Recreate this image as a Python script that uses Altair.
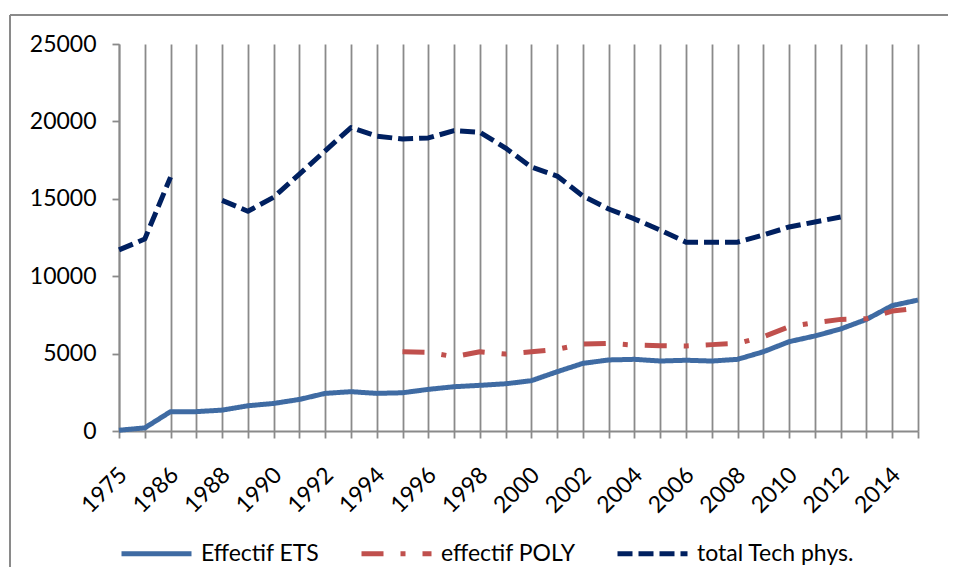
import altair as alt
import pandas as pd

years = [1975, 1985, 1986, 1987, 1988, 1989, 1990, 1991, 1992, 1993, 1994,
         1995, 1996, 1997, 1998, 1999, 2000, 2001, 2002, 2003, 2004, 2005,
         2006, 2007, 2008, 2009, 2010, 2011, 2012, 2013, 2014, 2015]

ets = [50, 200, 1250, 1250, 1350, 1630, 1780, 2040, 2430, 2540, 2430,
       2470, 2690, 2860, 2950, 3050, 3250, 3830, 4370, 4590, 4630, 4520,
       4570, 4520, 4630, 5120, 5770, 6140, 6590, 7210, 8100, 8460]

poly = [None, None, None, None, None, None, None, None, None, None, None,
        5120, 5080, 4800, 5120, 4970, 5120, 5280, 5620, 5660, 5550, 5510,
        5490, 5580, 5660, 6090, 6740, 7000, 7210, 7250, 7750, 7930]

total = [11700, 12400, 16400, None, 14900, 14200, 15100, 16600, 18100, 19600, 19050,
         18860, 18930, 19400, 19300, 18280, 17050, 16470, 15180, 14340, 13700, 12980,
         12200, 12190, 12200, 12660, 13180, 13500, 13820, None, None, None]

series_names = ["Effectif ETS", "effectif POLY", "total Tech phys."]
series_colors = ["#3F6BA3", "#C0504D", "#002060"]
series_dash = [[1, 0], [22, 17, 5, 17], [15, 6]]
y_ticks = [0, 5000, 10000, 15000, 20000, 25000]

rows = []
for name, vals in zip(series_names, [ets, poly, total]):
    seg = 0
    for yr, v in zip(years, vals):
        if v is None:
            seg += 1
            continue
        rows.append({"year": yr, "value": v, "series": name, "seg": seg})
df = pd.DataFrame(rows)

FONT = "Lato"
GRAY = "#8a8a8a"

legend = alt.Legend(
    title=None, orient="none", direction="horizontal",
    legendX=0, legendY=472,
    symbolType="stroke", symbolSize=4900, symbolStrokeWidth=5,
    labelFont=FONT, labelFontSize=23, labelColor="black", labelOffset=7,
    columnPadding=31, labelLimit=400,
)

lines = alt.Chart(df).mark_line(strokeWidth=5, strokeJoin="round").encode(
    x=alt.X("year:O", sort=years,
            scale=alt.Scale(type="point", padding=0),
            axis=alt.Axis(
                title=None, labelAngle=-45, labelAlign="right", labelBaseline="middle",
                labelFont=FONT, labelFontSize=23, labelColor="black",
                labelPadding=33, labelOffset=4,
                labelOverlap=False,
                labelExpr="(datum.value == 1975 || datum.value % 2 == 0) ? datum.label : ''",
                grid=True, gridColor=GRAY, gridWidth=1.8,
                tickColor=GRAY, tickSize=7, tickWidth=1.8,
                domainColor=GRAY, domainWidth=1.8,
            )),
    y=alt.Y("value:Q",
            scale=alt.Scale(domain=[0, 25000], nice=False),
            axis=alt.Axis(
                title=None, values=y_ticks, grid=False, format="d",
                labelFont=FONT, labelFontSize=23, labelColor="black", labelPadding=16,
                tickColor=GRAY, tickSize=7, tickWidth=1.8,
                domainColor=GRAY, domainWidth=1.8,
            )),
    color=alt.Color("series:N", sort=series_names,
                    scale=alt.Scale(domain=series_names, range=series_colors),
                    legend=legend),
    strokeDash=alt.StrokeDash("series:N", sort=series_names,
                              scale=alt.Scale(domain=series_names, range=series_dash),
                              legend=legend),
    detail="seg:N",
)

one = pd.DataFrame({"a": [0]})
frame_top = alt.Chart(one).mark_rule(stroke=GRAY, strokeWidth=2).encode(
    x=alt.value(-109), x2=alt.value(900), y=alt.value(-29),
)
frame_left = alt.Chart(one).mark_rule(stroke=GRAY, strokeWidth=2).encode(
    x=alt.value(-109), y=alt.value(-29), y2=alt.value(600),
)

chart = alt.layer(frame_top, frame_left, lines).properties(
    width=799, height=387,
    autosize=alt.AutoSizeParams(type="none"),
    padding={"left": 111, "top": 36, "right": 30, "bottom": 136},
).configure_view(stroke=None)

chart.save("out.html", embed_options={"renderer": "svg", "actions": False})
